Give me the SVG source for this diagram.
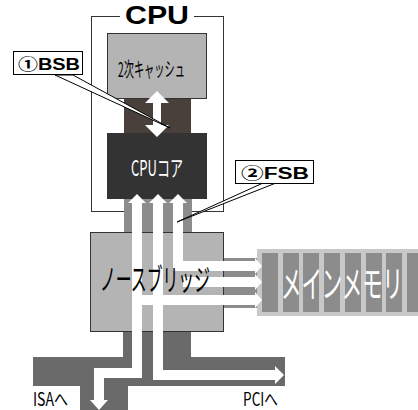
<svg xmlns="http://www.w3.org/2000/svg" width="418" height="410" viewBox="0 0 418 410">
<style>
.box{stroke:#333;stroke-width:1}
.jp{font-family:"Noto Sans CJK JP","Liberation Sans",sans-serif}
.lbl{font-family:"Liberation Sans","Noto Sans CJK JP",sans-serif;font-weight:bold;font-size:16px;fill:#000}
.arr{fill:#fff}
.lead{fill:#fff;stroke:#000;stroke-width:1}
</style>
<rect width="418" height="410" fill="#fff"/>
<g id="cpu-frame">
<rect x="91.5" y="16.5" width="132" height="195" fill="#fff" stroke="#333" stroke-width="1"/>
<rect x="120" y="4" width="74" height="24" fill="#fff"/>
<text x="157" y="24" text-anchor="middle" font-family="Liberation Sans,Arial,sans-serif" font-weight="bold" font-size="26" textLength="64" lengthAdjust="spacingAndGlyphs">CPU</text>
</g>
<g id="buses">
<rect x="124" y="99" width="67" height="34" fill="#4a403b"/>
<rect x="124" y="199" width="68" height="34" fill="#8c8c8c"/>
<rect x="123" y="332" width="68" height="26" fill="#6a6a6a"/>
<rect x="33" y="357" width="252" height="29" fill="#6a6a6a"/>
<rect x="80" y="385" width="48" height="25" fill="#6a6a6a"/>
<rect x="224" y="258" width="34" height="50" fill="#8c8c8c"/>
</g>
<g id="cache">
<rect class="box" x="107.5" y="33.5" width="99" height="65" fill="#b4b4b4"/>
</g>
<g id="core">
<rect x="107" y="133" width="100" height="66" fill="#333"/>
</g>
<g id="northbridge">
<rect class="box" x="90.5" y="232.5" width="133" height="99" fill="#b4b4b4"/>
</g>
<g id="memory">
<rect x="257" y="249" width="161" height="67" fill="#c8c8c8"/>
<rect x="262" y="253" width="16" height="59" fill="#8c8c8c"/>
<rect x="283" y="253" width="16" height="59" fill="#8c8c8c"/>
<rect x="303" y="253" width="16" height="59" fill="#8c8c8c"/>
<rect x="324" y="253" width="16" height="59" fill="#8c8c8c"/>
<rect x="345" y="253" width="16" height="59" fill="#8c8c8c"/>
<rect x="366" y="253" width="16" height="59" fill="#8c8c8c"/>
<rect x="386" y="253" width="16" height="59" fill="#8c8c8c"/>
<rect x="407" y="253" width="16" height="59" fill="#8c8c8c"/>
</g>
<g id="connectors">
<polygon class="arr" points="157,91 169,103 161,103 161,125 169,125 157,137 145,125 153,125 153,103 145,103"/>
<polygon class="arr" points="137,194 146,203 142,203 142,378 104,378 104,400 108,400 99,410 90,400 94,400 94,368 132,368 132,203 128,203"/>
<polygon class="arr" points="158,194 167,203 163,203 163,370 275,370 275,366 284,375 275,384 275,380 153,380 153,203 149,203"/>
<polygon class="arr" points="178,194 187,203 183,203 183,261 255,261 255,258 262,266 255,274 255,271 173,271 173,203 169,203"/>
<polygon class="arr" points="183,277 255,277 255,274 262,282 255,290 255,287 183,287"/>
<polygon class="arr" points="142,295 255,295 255,292 262,300 255,308 255,305 142,305"/>
</g>
<g id="texts">
<text class="jp" x="118" y="77" font-size="20" textLength="67" lengthAdjust="spacingAndGlyphs" fill="#000">2次キャッシュ</text>
<text class="jp" x="131" y="176" font-size="22" textLength="52" lengthAdjust="spacingAndGlyphs" fill="#fff">CPUコア</text>
<text class="jp" x="100" y="290" font-size="30" textLength="110" lengthAdjust="spacingAndGlyphs" fill="#000">ノースブリッジ</text>
<text class="jp" x="281" y="298" font-size="37" textLength="122" lengthAdjust="spacingAndGlyphs" fill="#fff">メインメモリ</text>
<text class="jp" x="33" y="406" font-size="18" textLength="35" lengthAdjust="spacingAndGlyphs" fill="#000">ISAへ</text>
<text class="jp" x="243" y="406" font-size="18" textLength="35" lengthAdjust="spacingAndGlyphs" fill="#000">PCIへ</text>
</g>
<g id="bsb-label">
<polygon class="lead" points="55,75 73,75 170,128"/>
<rect x="13.5" y="51.5" width="69" height="23" fill="#fff" stroke="#000" stroke-width="1"/>
<text class="lbl" x="18" y="70" textLength="62" lengthAdjust="spacingAndGlyphs">①BSB</text>
</g>
<g id="fsb-label">
<polygon class="lead" points="263,183 276,183 177,222"/>
<rect x="235.5" y="160.5" width="78" height="23" fill="#fff" stroke="#000" stroke-width="1"/>
<text class="lbl" x="241" y="179" textLength="68" lengthAdjust="spacingAndGlyphs">②FSB</text>
</g>
</svg>
